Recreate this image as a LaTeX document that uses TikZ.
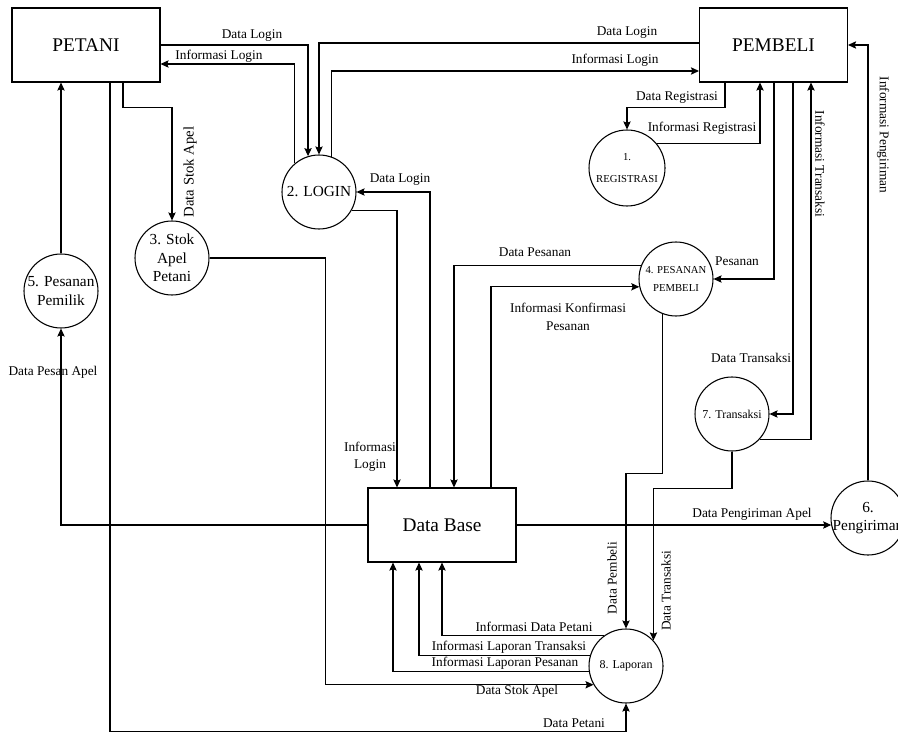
\documentclass[tikz,border=0pt]{standalone}
\usepackage{fontspec}
\setmainfont{Liberation Serif}
\usetikzlibrary{arrows.meta}

\begin{document}
\begin{tikzpicture}[x=0.75pt,y=0.75pt,yscale=-1,xscale=1,
        entity/.style={draw,line width=0.8pt,minimum width=111pt,minimum height=55.5pt,inner sep=0pt,font=\fontsize{14.5}{17}\selectfont},
        proc/.style={draw,circle,line width=0.8pt,minimum size=55.5pt,inner sep=0pt},
        ptxt/.style={font=\fontsize{11.5}{14}\selectfont,align=center,inner sep=0pt},
        stxt/.style={font=\fontsize{9}{11}\selectfont,align=center,inner sep=0pt},
        ttxt/.style={font=\fontsize{8}{13.5}\selectfont,align=center,inner sep=0pt},
        flow/.style={line width=0.8pt,-{Stealth[length=6pt,width=5.5pt,inset=1pt]}},
        lbl/.style={font=\fontsize{10}{13}\selectfont,inner sep=0pt,align=center}]
            \useasboundingbox (0,0) rectangle (898,734);
            \clip (0,0) rectangle (898,734);

            %Shape: Rectangle [id:petani]
            \node [entity] (petani) at (86,45) {PETANI};
            %Shape: Rectangle [id:pembeli]
            \node [entity] (pembeli) at (773.5,45) {PEMBELI};
            %Shape: Rectangle [id:db]
            \node [entity] (db) at (442,525) {Data Base};

            %Shape: Circle [id:reg]
            \node [proc,minimum size=57pt,label={[ttxt,font=\fontsize{8}{16}\selectfont]center:{1.\\REGISTRASI}}] (reg) at (627,168) {};
            %Shape: Circle [id:login]
            \node [proc,label={[ptxt]center:{2. LOGIN}}] (login) at (319,192) {};
            %Shape: Circle [id:stok]
            \node [proc,label={[ptxt]center:{3. Stok\\Apel\\Petani}}] (stok) at (172,258) {};
            %Shape: Circle [id:pesanan]
            \node [proc,label={[ttxt]center:{4. PESANAN\\PEMBELI}}] (pesanan) at (676,279) {};
            %Shape: Circle [id:pemilik]
            \node [proc,label={[ptxt]center:{5. Pesanan\\Pemilik}}] (pemilik) at (61,291) {};
            %Shape: Circle [id:kirim]
            \node [proc,label={[ptxt]center:{6.\\Pengiriman}}] (kirim) at (868,518) {};
            %Shape: Circle [id:trans]
            \node [proc,label={[stxt]center:{7. Transaksi}}] (trans) at (732,414) {};
            %Shape: Circle [id:laporan]
            \node [proc,label={[stxt]center:{8. Laporan}}] (laporan) at (626,666) {};

            %Connector: PETANI - LOGIN
            \draw [flow] (petani.east) -| (login.107);
            \draw [flow] (login.130) |- (petani.east |- 0,64);
            %Connector: PEMBELI - LOGIN
            \draw [flow] (pembeli.west |- 0,43) -| (login.north);
            \draw [flow] (login.71) |- (pembeli.west |- 0,71);
            %Connector: PEMBELI - REGISTRASI
            \draw [flow] (pembeli.south -| 725,0) -- ++(0,25) -| (reg.north);
            \draw [flow] (reg.39) -| (pembeli.south -| 760,0);
            %Connector: PEMBELI - PESANAN / TRANSAKSI
            \draw [flow] (pembeli.south -| 774,0) |- (pesanan.east);
            \draw [flow] (pembeli.south -| 793,0) |- (trans.east);
            \draw [flow] (trans.-42) -| (pembeli.south -| 811,0);
            %Connector: PENGIRIMAN - PEMBELI
            \draw [flow] (kirim.north) |- (pembeli.east);
            %Connector: Data Base - PENGIRIMAN / PEMILIK
            \draw [flow] (db.east) -- (db.east -| kirim.191);
            \draw [flow] (db.west) -| (pemilik.south);
            \draw [flow] (pemilik.north) -- (petani.south -| pemilik.north);
            %Connector: PETANI - STOK - LAPORAN
            \draw [flow] (petani.south -| 123,0) -- ++(0,25) -| (stok.north);
            \draw [flow] (stok.east) -- ++(116,0) |- (laporan.210);
            \draw [flow] (petani.south -| 110,0) -- ++(0,649) -| (laporan.south);
            %Connector: LAPORAN - Data Base
            \draw [flow] (laporan.126) -| (db.south);
            \draw [flow] (laporan.164) -| (db.south -| 419,0);
            \draw [flow] (laporan.189) -| (db.south -| 393,0);
            %Connector: PESANAN / TRANSAKSI - LAPORAN
            \draw [flow] (pesanan.249) -- ++(0,159) -| (laporan.north);
            \draw [flow] (trans.south) -- ++(0,37) -| (laporan.43);
            %Connector: Data Base - LOGIN / PESANAN
            \draw [flow] (db.north -| 430,0) |- (login.east);
            \draw [flow] (login.-29) -| (db.north -| 397,0);
            \draw [flow] (pesanan.159) -| (db.north -| 454,0);
            \draw [flow] (db.north -| 491,0) |- (pesanan.192);

            % Text Node
            \node [lbl] (l1) at (252,36) {Data Login};
            \node [lbl] (l2) at (219,56) {Informasi Login};
            \node [lbl] (l3) at (627,33) {Data Login};
            \node [lbl] (l4) at (615,60) {Informasi Login};
            \node [lbl] (l5) at (677,98) {Data Registrasi};
            \node [lbl] (l6) at (702,128) {Informasi Registrasi};
            \node [lbl] (l7) at (737,261) {Pesanan};
            \node [lbl] (l8) at (751,358) {Data Transaksi};
            \node [lbl,rotate=-90] (l9) at (820,164) {Informasi Transaksi};
            \node [lbl,rotate=-90] (l10) at (883,135) {Informasi Pengiriman};
            \node [lbl,rotate=90,font=\fontsize{11}{13}\selectfont] (l11) at (190,172) {Data Stok Apel};
            \node [lbl] (l12) at (400,180) {Data Login};
            \node [lbl] (l13) at (370,457) {Informasi\\Login};
            \node [lbl] (l14) at (535,252) {Data Pesanan};
            \node [lbl] (l15) at (568,317) {Informasi Konfirmasi\\Pesanan};
            \node [lbl] (l16) at (53,372) {Data Pesan Apel};
            \node [lbl] (l17) at (752,514) {Data Pengiriman Apel};
            \node [lbl,rotate=90] (l18) at (612,578) {Data Pembeli};
            \node [lbl,rotate=90] (l19) at (666,591) {Data Transaksi};
            \node [lbl] (l20) at (534,627) {Informasi Data Petani};
            \node [lbl] (l21) at (509,647) {Informasi Laporan Transaksi};
            \node [lbl] (l22) at (505,663) {Informasi Laporan Pesanan};
            \node [lbl] (l23) at (517,691) {Data Stok Apel};
            \node [lbl] (l24) at (574,723) {Data Petani};

\end{tikzpicture}
\end{document}
